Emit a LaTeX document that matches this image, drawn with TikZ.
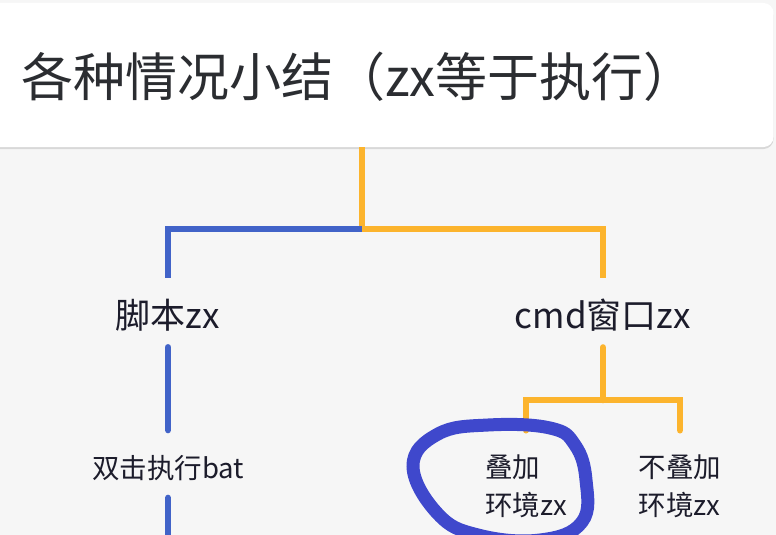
\documentclass[tikz,border=0pt]{standalone}
\usepackage{fontspec}
\setmainfont{Noto Sans CJK SC}
\usepackage{xcolor}
\definecolor{ink}{HTML}{1C1C2B}
\definecolor{head}{HTML}{2B2D31}
\definecolor{paper}{HTML}{F6F6F6}
\definecolor{amber}{HTML}{FCB42D}
\definecolor{cobalt}{HTML}{4163C8}
\definecolor{marker}{HTML}{3F48CC}
\usepackage{tikz}
\usetikzlibrary{calc, shadows}
\tikzset{
  lbl/.style={text=ink, inner sep=0pt, align=left},
  big/.style={lbl, font=\fontsize{35}{40}\selectfont},
  small/.style={lbl, font=\fontsize{27.5}{38}\selectfont},
  branch/.style={line width=6pt, line join=miter},
  twig/.style={line width=6.5pt, line cap=round, line join=miter},
}

\begin{document}
\begin{tikzpicture}[x=1pt, y=-1pt,
    card/.style={fill=white, rounded corners=10pt, minimum width=785pt, minimum height=144pt,
      drop shadow={shadow xshift=0pt, shadow yshift=-2pt, opacity=.12, fill=black}}]
  \useasboundingbox (0,0) rectangle (776,535);
  \clip (0,0) rectangle (776,535);
  \fill[paper] (0,0) rectangle (776,535);
  % header card
  \node[card] (banner) at (381,75) {};
  \node[anchor=west, text=head, inner sep=0pt, font=\fontsize{52}{60}\selectfont] (title) at (21,77)
    {各种情况小结（zx等于执行）};
  % tree labels
  \node[big] (script) at (168,315) {脚本zx};
  \node[big] (cmd) at (603,315) {cmd窗口zx};
  \node[small] (dbl) at (168,468) {双击执行bat};
  \node[small] (stack) at (526,486) {叠加\\环境zx};
  \node[small] (nostack) at (680,486) {不叠加\\环境zx};
  \coordinate (fork) at (362,229);
  \coordinate (split) at (603,400);
  \coordinate (below) at (168,560);
  % first level
  \draw[branch, amber] (banner.south -| fork) -- (fork);
  \draw[branch, cobalt, shorten >=21pt] (fork) -| (script.north);
  \draw[branch, amber, shorten >=21pt] (fork) -| (cmd.north);
  % second level
  \draw[twig, cobalt, shorten <=16pt, shorten >=25pt] (script.south) -- (dbl.north);
  \draw[twig, cobalt, shorten <=17pt] (dbl.south) -- (below);
  \draw[twig, amber, shorten <=16pt] (cmd.south) -- (split);
  \draw[twig, amber, shorten <=24pt, shorten >=24pt] (stack.north) |- (split) -| (nostack.north);
  % hand drawn ring
  \draw[marker, line width=13pt] plot[smooth cycle, tension=0.7] coordinates
    {(413,466) (438,514) (478,535) (540,540) (582,522) (586,480) (575,445) (550,428) (488,425) (438,434)};
\end{tikzpicture}
\end{document}
